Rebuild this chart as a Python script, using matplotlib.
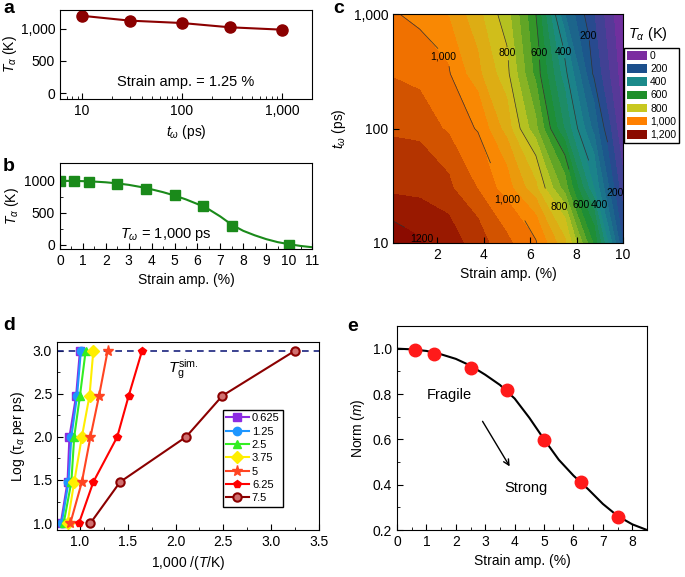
import numpy as np
import matplotlib
matplotlib.use('Agg')
import matplotlib.pyplot as plt
from matplotlib.colors import LinearSegmentedColormap, Normalize
from matplotlib.patches import Patch

plt.rcParams['font.family'] = ['Liberation Sans', 'DejaVu Sans']
plt.rcParams['mathtext.fontset'] = 'custom'
plt.rcParams['mathtext.rm'] = 'Liberation Sans'
plt.rcParams['mathtext.it'] = 'Liberation Sans:italic'
plt.rcParams['font.size'] = 10

# ---- data ----
# a: T_alpha vs waiting time at strain amp. 1.25 %
tw_a = [10, 30, 100, 300, 1000]
T_a = [1200, 1125, 1088, 1022, 985]

# b: T_alpha vs strain amp. at T_w = 1000 ps
strain_b = [0, 0.625, 1.25, 2.5, 3.75, 5, 6.25, 7.5, 10]
T_b = [1000, 1000, 984, 943, 865, 771, 600, 295, 0]
fit_x_b = [0, 0.5, 1, 1.5, 2, 2.5, 3, 3.5, 4, 4.5, 5, 5.5, 6, 6.5, 7, 7.5,
           8, 8.5, 9, 9.5, 10, 10.5, 11]
fit_y_b = [1000, 999, 995, 988, 977, 960, 937, 905, 866, 822, 770, 708, 636,
           552, 440, 310, 215, 145, 85, 38, 5, -22, -42]

# c: T_alpha map (rows: waiting time, cols: strain amp.)
strain_c = [0.1, 1.25, 2.5, 3.75, 5, 6.25, 7.5, 8.75, 10]
tw_c = [10, 30, 100, 300, 1000]
T_c = [
    [1225, 1205, 1175, 1125, 1060, 1005, 860, 590, 200],
    [1135, 1130, 1110, 1048, 973, 860, 675, 400, 110],
    [1090, 1085, 1040, 995, 876, 710, 492, 282, 50],
    [1045, 1025, 1005, 912, 815, 632, 417, 190, 20],
    [1005, 985, 945, 865, 770, 600, 300, 150, 0],
]
legend_vals_c = ['0', '200', '400', '600', '800', '1,000', '1,200']
legend_cols_c = ['#7b2ca0', '#1c4f8c', '#1b8a8a', '#1f8f2a', '#c8c820', '#ff8000', '#8b0b00']

# d: Log(tau) vs 1000/T for different strain amplitudes
log_tau_d = [1.0, 1.477, 2.0, 2.477, 3.0]
series_d = ['0.625', '1.25', '2.5', '3.75', '5', '6.25', '7.5']
inv_T_d = [
    [0.80, 0.87, 0.89, 0.96, 1.00],
    [0.81, 0.88, 0.91, 0.97, 1.01],
    [0.83, 0.91, 0.94, 1.00, 1.06],
    [0.87, 0.94, 1.02, 1.10, 1.14],
    [0.90, 1.02, 1.11, 1.20, 1.29],
    [0.99, 1.14, 1.39, 1.51, 1.65],
    [1.11, 1.42, 2.11, 2.49, 3.25],
]
colors_d = ['#8c2be2', '#1e96ff', '#33ee22', '#ffee00', '#ff4422', '#ff0000', '#8b0000']
markers_d = ['s', 'o', '^', 'D', '*', 'p', 'o']

# e: normalised fragility vs strain amp.
strain_e = [0.625, 1.25, 2.5, 3.75, 5, 6.25, 7.5]
norm_e = [0.993, 0.978, 0.916, 0.819, 0.596, 0.412, 0.256]
fit_x_e = [0, 0.5, 1, 1.5, 2, 2.5, 3, 3.5, 4, 4.5, 5, 5.5, 6, 6.5, 7, 7.5, 8, 8.5]
fit_y_e = [1.0, 0.997, 0.99, 0.975, 0.955, 0.925, 0.885, 0.84, 0.78, 0.695,
           0.60, 0.51, 0.44, 0.38, 0.315, 0.262, 0.225, 0.20]

W, H = 685, 577
fig = plt.figure(figsize=(W / 100, H / 100), dpi=100)


def box(l, t, r, b):
    return [l / W, 1 - b / H, (r - l) / W, (b - t) / H]


def style(ax):
    ax.tick_params(which='both', direction='in', top=False, right=False)
    ax.tick_params(which='major', length=4)
    ax.tick_params(which='minor', length=2)


# ---- a ----
ax = fig.add_axes(box(60, 10, 312, 99))
ax.plot(tw_a, T_a, '-o', color='#8b0000', ms=8, lw=1.5)
ax.set_xscale('log')
ax.set_xlim(6, 2000)
ax.set_ylim(-90, 1290)
ax.set_yticks([0, 500, 1000], ['0', '500', '1,000'])
ax.set_xticks([10, 100, 1000], ['10', '100', '1,000'])
ax.set_ylabel(r'$T_\alpha$ (K)', labelpad=1)
ax.set_xlabel(r'$t_\omega$ (ps)')
ax.text(0.5, 0.19, 'Strain amp. = 1.25 %', transform=ax.transAxes, ha='center', va='center',
        fontsize=10.5)
style(ax)

# ---- b ----
ax = fig.add_axes(box(60, 163, 312, 249))
ax.plot(fit_x_b, fit_y_b, '-', color='#1a8a1a', lw=1.5)
ax.plot(strain_b, T_b, 's', color='#1a8a1a', ms=7)
ax.set_xlim(0, 11)
ax.set_ylim(-70, 1280)
ax.set_xticks(range(0, 12))
ax.set_xticks(np.arange(0.5, 11, 1), minor=True)
ax.set_yticks([0, 500, 1000])
ax.set_yticks([250, 750], minor=True)
ax.set_ylabel(r'$T_\alpha$ (K)', labelpad=2)
ax.set_xlabel('Strain amp. (%)')
ax.text(0.42, 0.17, r'$T_\omega$ = 1,000 ps', transform=ax.transAxes, ha='center', va='center',
        fontsize=10.5)
style(ax)

# ---- c ----
ax = fig.add_axes(box(393, 14, 623, 243))
cmap = LinearSegmentedColormap.from_list('rb', legend_cols_c)
levels = np.arange(0, 1301, 50)
ax.contourf(strain_c, tw_c, T_c, levels=levels, cmap=cmap, norm=Normalize(0, 1200))
cl = ax.contour(strain_c, tw_c, T_c, levels=[200, 400, 600, 800, 1000, 1200],
                colors='#333333', linewidths=0.5)
fmt = {200: '200', 400: '400', 600: '600', 800: '800', 1000: '1,000', 1200: '1200'}
labels_c = ax.clabel(cl, fmt=fmt, fontsize=7.5, colors='black', inline=True,
                     manual=[(1.97, 414), (5.07, 454), (6.42, 459), (7.34, 469), (8.49, 648),
                             (5.0, 23), (7.24, 20.6), (8.2, 20.4), (9.0, 20.4), (9.65, 25.3),
                             (1.32, 10.2)])
for t in labels_c:
    t.set_rotation(0)
ax.set_yscale('log')
ax.set_xlim(0.1, 10)
ax.set_ylim(10, 1000)
ax.set_xticks([2, 4, 6, 8, 10])
ax.set_yticks([10, 100, 1000], ['10', '100', '1,000'])
ax.yaxis.set_minor_locator(matplotlib.ticker.NullLocator())
ax.set_xlabel('Strain amp. (%)')
ax.set_ylabel(r'$t_\omega$ (ps)')
style(ax)
fig.text(648 / W, 1 - 34 / H, r'$T_\alpha$ (K)', ha='center', va='center', fontsize=10.5)
handles = [Patch(facecolor=c, edgecolor='none') for c in legend_cols_c]
leg = ax.legend(handles, legend_vals_c, loc='upper left', bbox_to_anchor=(624 / W, 1 - 48 / H),
                bbox_transform=fig.transFigure, fontsize=7.5, handlelength=1.9,
                handleheight=0.9, labelspacing=0.3, handletextpad=0.3, borderpad=0.3,
                borderaxespad=0, fancybox=False, framealpha=1)
leg.get_frame().set_edgecolor('black')

# ---- d ----
ax = fig.add_axes(box(57, 342, 319, 530))
ax.axhline(3.0, color='#1a237e', ls=(0, (4, 3)), lw=1.2)
for lab, xs, c, m in zip(series_d, inv_T_d, colors_d, markers_d):
    ms = 8 if m == '*' else 6
    if lab == '7.5':
        ax.plot(xs, log_tau_d, '-', marker=m, color=c, mfc='#d07070', mec=c, mew=1.5, ms=6,
                lw=1.5, label=lab)
    else:
        ax.plot(xs, log_tau_d, '-', marker=m, color=c, ms=ms, lw=1.5, label=lab)
ax.set_xlim(0.76, 3.5)
ax.set_ylim(0.92, 3.1)
ax.set_xticks([1.0, 1.5, 2.0, 2.5, 3.0, 3.5])
ax.set_xticks(np.arange(1.25, 3.5, 0.5), minor=True)
ax.set_yticks([1.0, 1.5, 2.0, 2.5, 3.0])
ax.set_yticks(np.arange(1.25, 3.0, 0.5), minor=True)
ax.set_xlabel(r'1,000 /($T$/K)')
ax.set_ylabel(r'Log (τ$_\alpha$ per ps)')
ax.text(2.08, 2.78, r'$T_\mathrm{g}^\mathrm{sim.}$', fontsize=11, ha='center', va='center')
style(ax)
leg = ax.legend(loc='upper left', bbox_to_anchor=(223 / W, 1 - 410 / H),
                bbox_transform=fig.transFigure, fontsize=8, handlelength=2.0,
                labelspacing=0.3, handletextpad=0.3, borderpad=0.3, borderaxespad=0,
                fancybox=False, framealpha=1)
leg.get_frame().set_edgecolor('black')

# ---- e ----
ax = fig.add_axes(box(397, 326, 647, 530))
ax.plot(fit_x_e, fit_y_e, '-', color='black', lw=1.5)
ax.plot(strain_e, norm_e, 'o', color='#ff1a1a', ms=9)
ax.set_xlim(0, 8.5)
ax.set_ylim(0.2, 1.1)
ax.set_xticks(range(0, 9))
ax.set_xticks(np.arange(0.5, 8.5, 1), minor=True)
ax.set_yticks([0.2, 0.4, 0.6, 0.8, 1.0])
ax.set_yticks([0.3, 0.5, 0.7, 0.9], minor=True)
ax.set_xlabel('Strain amp. (%)')
ax.set_ylabel(r'Norm ($m$)')
ax.text(1.79, 0.796, 'Fragile', ha='center', va='center', fontsize=10.5)
ax.text(4.38, 0.385, 'Strong', ha='center', va='center', fontsize=10.5)
ax.annotate('', xy=(3.88, 0.47), xytext=(2.86, 0.69),
            arrowprops=dict(arrowstyle='->', color='black', lw=1))
style(ax)

# panel letters
for lab, x, y in [('a', 3, 0), ('b', 3, 158), ('c', 333, 0), ('d', 3, 317), ('e', 347, 318)]:
    fig.text(x / W, 1 - y / H, lab, fontsize=14, fontweight='bold', ha='left', va='top')

fig.savefig('out.png', dpi=100)
